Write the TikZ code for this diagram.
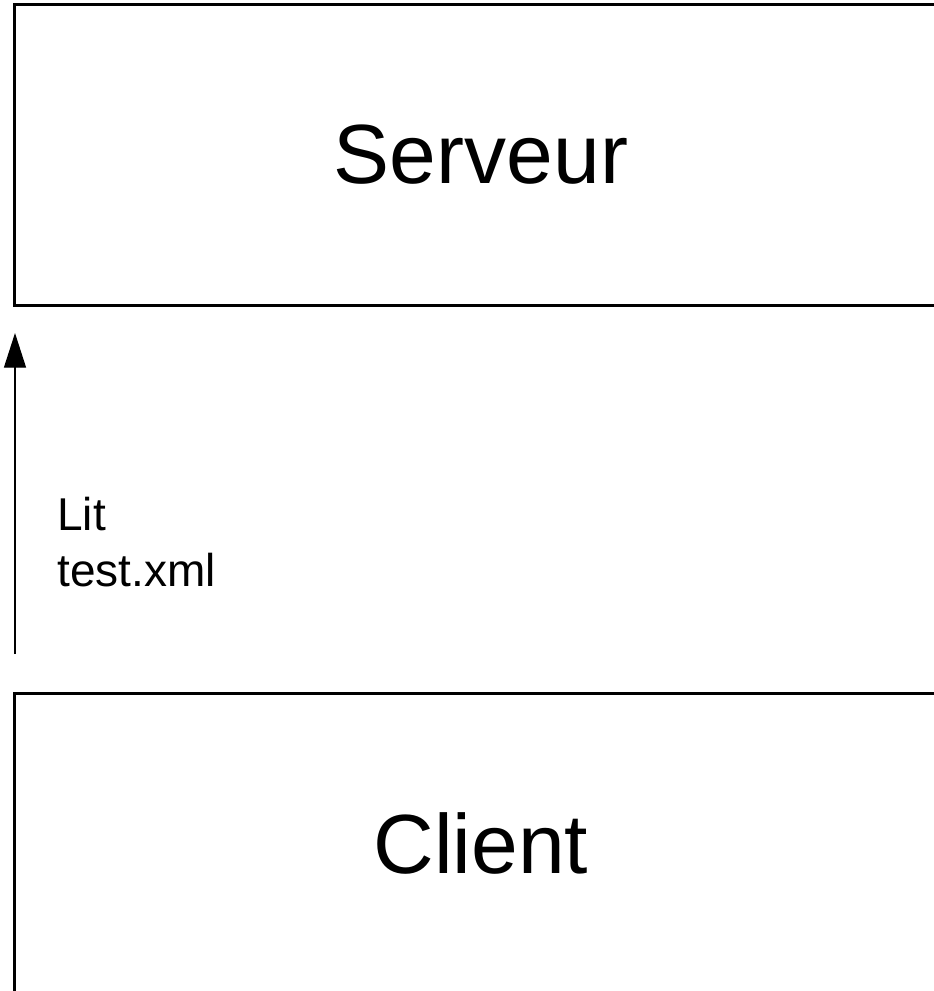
\documentclass[tikz,border=0pt]{standalone}
\usepackage{fontspec}
\setmainfont{Liberation Sans}
\usetikzlibrary{arrows.meta}
\usetikzlibrary{positioning}

\tikzset{
  boite/.style={draw, line width=2.25pt, minimum width=700.5pt, minimum height=225pt,
    inner sep=0pt, font=\fontsize{63}{75}\selectfont},
  fleche/.style={line width=1pt, -{Triangle[length=26pt,width=16.5pt]}},
}

\begin{document}
\begin{tikzpicture}[x=0.75pt,y=0.75pt,yscale=-1,xscale=1]
  \useasboundingbox (0,0) rectangle (933,991); %page of 933 x 991
  % Boxes
  \node [boite] (serveur) at (481,155) {Serveur};
  \node [boite] (client) at (481,843) {Client};
  % Straight Lines
  \coordinate (depart) at (15,654);
  \coordinate (arrivee) at (15,333);
  \draw [fleche] (depart) -- (arrivee);
  % Text Node
  \node [anchor=west, inner sep=0pt, align=left, font=\fontsize{34.5}{42}\selectfont] (lit) at (57,542) {Lit\\test.xml};
\end{tikzpicture}
\end{document}
